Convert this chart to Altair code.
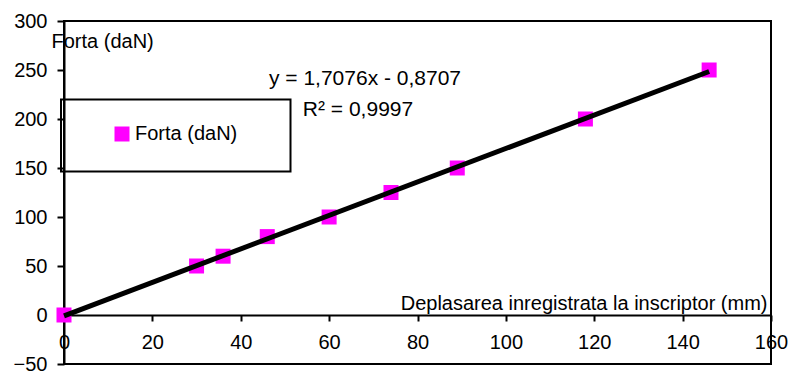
import altair as alt
import pandas as pd

# ---- data ----
deplasare = [0, 30, 36, 46, 60, 74, 89, 118, 146]
forta = [0, 50, 60, 80, 100, 125, 150, 200, 250]
series_name = "Forta (daN)"
x_title = "Deplasarea inregistrata la inscriptor (mm)"
y_title = "Forta (daN)"
x_ticks = [0, 20, 40, 60, 80, 100, 120, 140, 160]
y_ticks = [-50, 0, 50, 100, 150, 200, 250, 300]
eq_lines = ["y = 1,7076x - 0,8707", "R\u00b2 = 0,9997"]

df = pd.DataFrame({"x": deplasare, "y": forta, "series": [series_name] * len(forta)})
one = pd.DataFrame({"k": [0]})

FONT = "Liberation Sans"
FS = 20

x_enc = alt.X(
    "x:Q",
    scale=alt.Scale(domain=[0, 160], nice=False, zero=False),
    axis=alt.Axis(
        values=x_ticks, title=x_title, offset=-49,
        labelFlush=False, labelOverlap=False, labelBound=False,
        tickSize=6, labelPadding=11,
        titleX=703, titleY=-6, titleAlign="right", titleBaseline="alphabetic",
        titleAngle=0,
    ),
)
y_enc = alt.Y(
    "y:Q",
    scale=alt.Scale(domain=[-50, 300], nice=False, zero=False),
    axis=alt.Axis(
        values=y_ticks, title=y_title,
        labelFlush=False, labelOverlap=False, labelBound=False,
        tickSize=7, labelPadding=10,
        titleAngle=0, titleX=-13, titleY=26, titleAlign="left",
        titleBaseline="alphabetic",
    ),
)

base = alt.Chart(df)

points = base.mark_square(size=225, opacity=1, strokeWidth=0).encode(
    x=x_enc,
    y=y_enc,
    color=alt.Color(
        "series:N",
        scale=alt.Scale(range=["#FF00FF"]),
        legend=alt.Legend(
            title=None, orient="none", legendX=48, legendY=103,
            symbolType="square", symbolSize=225, symbolStrokeWidth=0,
            symbolOpacity=1,
            labelFontSize=FS, labelFont=FONT, labelColor="black",
            labelOffset=3, padding=0,
        ),
    ),
)

trend = base.transform_regression("x", "y", method="linear").mark_line(
    color="black", strokeWidth=5
).encode(x="x:Q", y="y:Q")

legend_box = alt.Chart(one).mark_rect(fill="white", fillOpacity=0, stroke="black", strokeWidth=2).encode(
    x=alt.value(-3), x2=alt.value(226.5), y=alt.value(78.5), y2=alt.value(150.5)
)

eq1 = alt.Chart(one).mark_text(font=FONT, fontSize=21, color="black", align="center",
                               baseline="alphabetic", fontWeight="normal").encode(
    x=alt.value(301), y=alt.value(64), text=alt.value(eq_lines[0])
)
eq2 = alt.Chart(one).mark_text(font=FONT, fontSize=21, color="black", align="center",
                               baseline="alphabetic", fontWeight="normal").encode(
    x=alt.value(294), y=alt.value(95), text=alt.value(eq_lines[1])
)

chart = alt.layer(legend_box, points, trend, eq1, eq2).properties(
    width=707, height=343,
    autosize=alt.AutoSizeParams(type="none"),
    padding={"left": 64, "top": 21, "right": 19, "bottom": 8},
    background="white",
).configure_view(
    stroke="black", strokeWidth=2
).configure_axis(
    grid=False, domainColor="black", domainWidth=2, tickColor="black", tickWidth=2,
    labelFont=FONT, labelFontSize=FS, labelColor="black",
    titleFont=FONT, titleFontSize=FS, titleColor="black", titleFontWeight="normal",
).configure_text(font=FONT)

chart.save("out.html", embed_options={"renderer": "svg", "actions": False})
